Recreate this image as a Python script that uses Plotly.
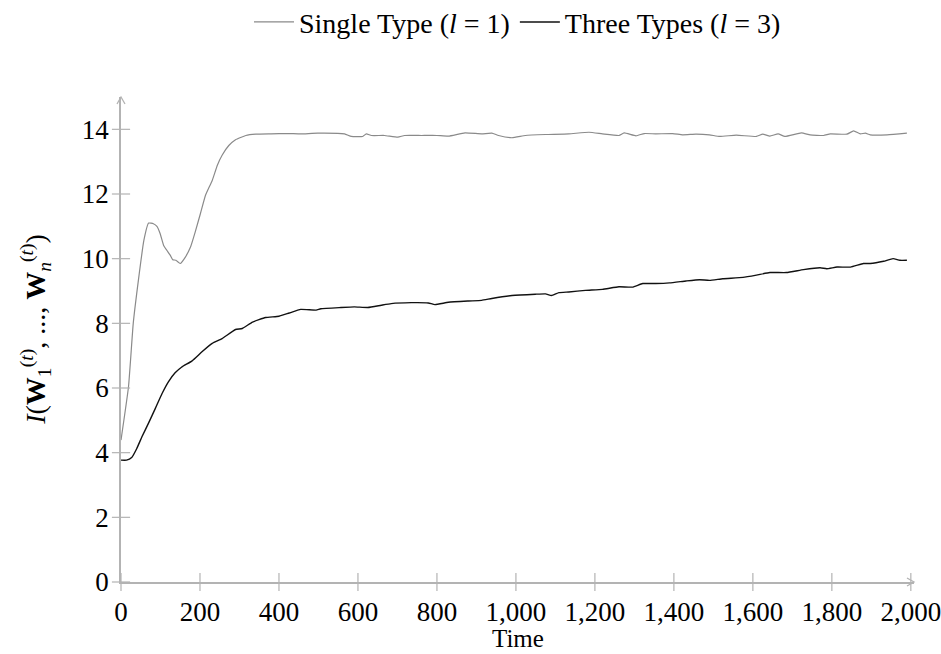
import plotly.graph_objects as go

# Single Type (l = 1)
t_single = [0, 19, 31, 44, 58, 70, 82, 91, 99, 108, 116, 125, 131, 139, 150, 163, 176, 188, 201, 214,
            231, 244, 256, 273, 290, 316, 341, 380, 420, 455, 498, 566, 583, 612, 621, 634, 667, 701,
            718, 761, 800, 829, 871, 913, 939, 956, 990, 1024, 1075, 1134, 1185, 1219, 1261, 1274,
            1304, 1325, 1354, 1397, 1422, 1456, 1490, 1516, 1558, 1609, 1625, 1643, 1664, 1681, 1723,
            1745, 1779, 1796, 1838, 1855, 1872, 1885, 1897, 1940, 1990]
v_single = [4.39, 6.04, 8.0, 9.33, 10.57, 11.1, 11.08, 11.0, 10.78, 10.41, 10.26, 10.1, 9.97, 9.95, 9.85,
            10.05, 10.36, 10.83, 11.39, 11.96, 12.42, 12.89, 13.2, 13.5, 13.68, 13.81, 13.85, 13.86,
            13.87, 13.86, 13.88, 13.86, 13.78, 13.78, 13.86, 13.81, 13.81, 13.76, 13.81, 13.81, 13.81,
            13.79, 13.89, 13.86, 13.88, 13.81, 13.74, 13.81, 13.84, 13.86, 13.91, 13.86, 13.81, 13.89,
            13.80, 13.87, 13.86, 13.87, 13.83, 13.85, 13.83, 13.78, 13.82, 13.78, 13.85, 13.79, 13.86,
            13.78, 13.89, 13.83, 13.81, 13.86, 13.85, 13.95, 13.86, 13.88, 13.83, 13.83, 13.88]

# Three Types (l = 3)
t_three = [0, 14, 27, 40, 53, 70, 87, 104, 120, 137, 154, 180, 205, 231, 256, 290, 307, 333, 366, 400,
           426, 455, 494, 506, 557, 591, 625, 659, 684, 735, 778, 795, 829, 880, 913, 939, 990, 1049,
           1075, 1090, 1109, 1134, 1176, 1219, 1261, 1295, 1321, 1354, 1389, 1431, 1465, 1490, 1524,
           1575, 1609, 1643, 1685, 1728, 1770, 1787, 1813, 1847, 1880, 1897, 1931, 1955, 1972, 1990]
v_three = [3.77, 3.77, 3.85, 4.13, 4.49, 4.92, 5.37, 5.83, 6.19, 6.47, 6.65, 6.84, 7.12, 7.38, 7.53,
           7.81, 7.84, 8.04, 8.18, 8.22, 8.32, 8.43, 8.41, 8.45, 8.49, 8.51, 8.49, 8.56, 8.61, 8.64,
           8.63, 8.58, 8.65, 8.69, 8.71, 8.77, 8.86, 8.90, 8.91, 8.86, 8.95, 8.97, 9.02, 9.05, 9.13,
           9.12, 9.23, 9.23, 9.25, 9.31, 9.35, 9.33, 9.38, 9.42, 9.49, 9.57, 9.57, 9.66, 9.72, 9.69,
           9.74, 9.74, 9.85, 9.85, 9.92, 10.0, 9.95, 9.95]

x_ticks = [0, 200, 400, 600, 800, 1000, 1200, 1400, 1600, 1800, 2000]
y_ticks = [0, 2, 4, 6, 8, 10, 12, 14]

x_title = "Time"
y_title = ("<i>I</i>(<b>W</b><sub>1</sub><sup>(<i>t</i>)</sup>, ..., "
           "<b>W</b><sub><i>n</i></sub><sup>(<i>t</i>)</sup>)")

FONT = "Liberation Serif, Times New Roman, serif"
AX = "#b3b3b3"
F = dict(family=FONT, size=27, color="black")
FT = dict(family=FONT, size=25, color="black")

fig = go.Figure()
fig.add_trace(go.Scatter(x=t_single, y=v_single, mode="lines", name="Single Type (<i>l</i> = 1)",
                         line=dict(color="#8a8a8a", width=1.2, shape="spline", smoothing=0.4)))
fig.add_trace(go.Scatter(x=t_three, y=v_three, mode="lines", name="Three Types (<i>l</i> = 3)",
                         line=dict(color="#111111", width=1.4, shape="spline", smoothing=0.4)))

# tick marks crossing the axis lines (drawn from the tick lists through the axes' scales)
fig.add_trace(go.Scatter(x=[0] * len(y_ticks), y=y_ticks, mode="markers", showlegend=False,
                         hoverinfo="skip", cliponaxis=False,
                         marker=dict(symbol="line-ew", size=13, line=dict(color=AX, width=1.2))))
fig.add_trace(go.Scatter(x=x_ticks, y=[0] * len(x_ticks), mode="markers", showlegend=False,
                         hoverinfo="skip", cliponaxis=False,
                         marker=dict(symbol="line-ns", size=13, line=dict(color=AX, width=1.2))))

xr = [0, 2008]
yr = [0, 15]
common = dict(showgrid=False, zeroline=False, tickcolor="rgba(0,0,0,0)", ticklen=5, tickwidth=1,
              tickfont=F, ticks="outside", showline=True, linecolor=AX, linewidth=1.5,
              automargin=False, ticklabeloverflow="allow")
fig.update_layout(
    width=941, height=654,
    margin=dict(l=121, r=27, t=97, b=72),
    plot_bgcolor="white", paper_bgcolor="white",
    font=F,
    showlegend=True,
    legend=dict(orientation="h", x=0.5, xanchor="center", y=0.966, yref="container",
                yanchor="middle", font=dict(family=FONT, size=28, color="black"),
                bgcolor="rgba(0,0,0,0)", itemwidth=40),
    xaxis=dict(range=xr, tickvals=x_ticks, tickformat=",d", **common),
    yaxis=dict(range=yr, tickvals=y_ticks, **common),
)

# axis titles (plot area 793 x 485 px)
fig.add_annotation(text=x_title, xref="paper", yref="paper", x=0.5, y=-71 / 485,
                   xanchor="center", yanchor="bottom", showarrow=False, font=FT, borderpad=0)
fig.add_annotation(text=y_title, xref="paper", yref="paper", x=-85 / 793, y=0.52,
                   xanchor="center", yanchor="middle", showarrow=False, textangle=-90,
                   font=dict(family=FONT, size=28, color="black"))

# open arrowheads at axis ends
dxp, dyp = 7 / 793, 4 / 485
fig.add_shape(type="path", xref="paper", yref="paper",
              path=f"M {1 - dxp} {dyp} L 1 0 L {1 - dxp} {-dyp}",
              line=dict(color=AX, width=1.3))
dxq, dyq = 4 / 793, 7 / 485
fig.add_shape(type="path", xref="paper", yref="paper",
              path=f"M {-dxq} {1 - dyq} L 0 1 L {dxq} {1 - dyq}",
              line=dict(color=AX, width=1.3))

fig.write_html("out.html")
